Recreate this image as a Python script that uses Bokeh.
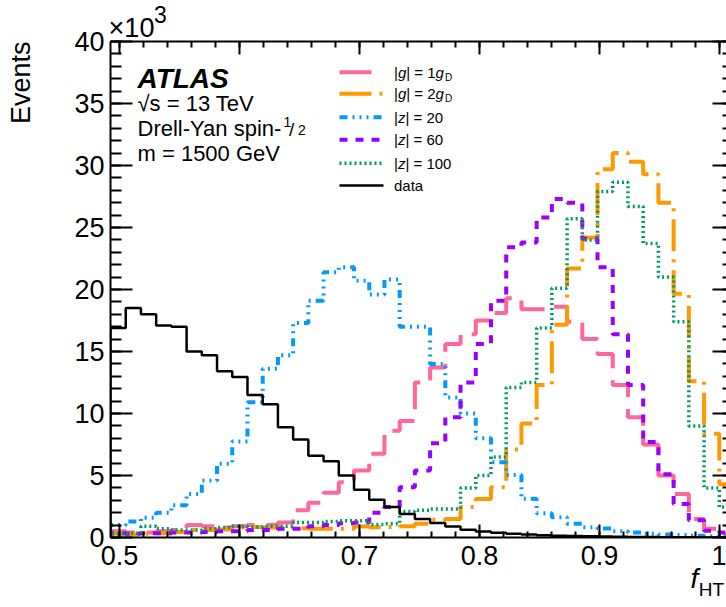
import numpy as np
from bokeh.plotting import figure
from bokeh.models import Range1d, LinearAxis, FixedTicker, CustomJSTickFormatter, Label, Title
from bokeh.embed import file_html
from bokeh.resources import INLINE

# ---------------- data (events in units of 10^3) ----------------
x_lo, x_hi, n_bins = 0.4925, 1.0125, 41

g1_vals = [0.5, 0.4, 0.4, 0.5, 0.6, 1.0, 0.9, 0.8, 0.9, 1.0, 1.0, 1.2, 2.2, 2.8, 3.6, 4.46,
           5.4, 6.75, 8.6, 9.4, 12.5, 13.7, 15.6, 16.4, 17.5, 18.1, 19.3, 18.4, 18.4, 18.6,
           17.4, 16.0, 14.8, 12.3, 9.7, 7.5, 5.0, 3.5, 1.5, 0.7, 0.3]
g2_vals = [0.3, 0.25, 0.3, 0.35, 0.45, 0.6, 0.6, 0.65, 0.8, 0.85, 0.8, 0.8, 0.75, 0.7, 0.7,
           0.7, 0.89, 0.83, 0.85, 0.9, 1.1, 1.43, 1.5, 2.45, 3.1, 4.06, 7.1, 9.2, 12.3, 17.15,
           21.7, 24.2, 29.7, 31.0, 30.3, 29.3, 27.0, 19.65, 12.6, 8.36, 4.3]
z20_vals = [1.0, 1.3, 1.6, 2.0, 2.6, 3.5, 4.6, 5.95, 7.75, 10.9, 13.6, 14.7, 17.3, 19.1, 21.4,
            21.8, 20.7, 19.6, 20.8, 17.0, 17.0, 14.0, 11.3, 10.0, 8.0, 6.07, 5.05, 3.12, 1.96,
            1.64, 1.1, 0.83, 0.72, 0.5, 0.4, 0.3, 0.25, 0.2, 0.15, 0.1, 0.1]
z60_vals = [0.35, 0.3, 0.35, 0.35, 0.4, 0.4, 0.45, 0.5, 0.5, 0.6, 0.6, 0.7, 0.7, 0.9, 1.0,
            1.15, 1.2, 2.0, 2.45, 4.06, 5.4, 7.6, 9.7, 12.5, 15.6, 19.1, 23.4, 23.8, 25.8, 27.3,
            27.0, 24.1, 21.8, 16.4, 12.3, 7.7, 5.1, 2.7, 1.4, 0.55, 0.4]
z100_vals = [0.3, 0.35, 0.9, 0.7, 0.6, 0.6, 0.7, 0.8, 0.9, 0.85, 0.9, 0.9, 1.2, 1.2, 1.3,
             1.35, 1.35, 1.05, 1.1, 2.1, 2.2, 2.3, 2.3, 4.0, 5.0, 6.5, 12.1, 12.5, 16.9, 20.1,
             25.7, 24.0, 27.9, 28.65, 26.7, 23.7, 21.0, 17.4, 9.0, 4.0, 2.45]
data_vals = [16.9, 18.5, 18.0, 17.1, 17.0, 15.0, 14.7, 13.4, 12.95, 11.5, 10.75, 8.9, 7.9, 6.6,
             6.15, 5.0, 3.85, 3.05, 2.45, 1.9, 1.5, 1.16, 0.89, 0.62, 0.48, 0.38, 0.3, 0.24,
             0.19, 0.15, 0.12, 0.1, 0.08, 0.06, 0.05, 0.04, 0.03, 0.02, 0.02, 0.01, 0.01]

x_ticks = [0.5, 0.6, 0.7, 0.8, 0.9, 1.0]
x_tick_labels = ["0.5", "0.6", "0.7", "0.8", "0.9", "1"]
y_ticks = [0, 5, 10, 15, 20, 25, 30, 35, 40]

FONT = "Liberation Sans"

# ---------------- geometry ----------------
W, H = 726, 607
FL, FT, FB = 110, 41, 70          # frame borders (canvas px)
PX_PER_X = 1200.0                  # pixels per unit x
x_end = x_lo + (W - FL) / PX_PER_X

def X(px):  # canvas px -> data x
    return x_lo + (px - FL) / PX_PER_X

def Y(py):  # canvas px -> data y
    return (H - FB - py) / 12.4

p = figure(width=W, height=H, x_range=Range1d(x_lo, x_end), y_range=Range1d(0, 40),
           output_backend="svg", toolbar_location=None, title=None,
           x_axis_location=None, y_axis_location=None,
           min_border_left=FL, min_border_right=0, min_border_top=FT, min_border_bottom=FB)
p.outline_line_color = None
p.grid.visible = False
p.background_fill_color = "white"
p.border_fill_color = "white"

x_minor = [round(0.5 + 0.02 * i, 4) for i in range(26)]
y_minor = list(range(0, 41))

lab_fmt = CustomJSTickFormatter(args=dict(tv=x_ticks, tl=x_tick_labels),
                                code="let out = ''; for (let i = 0; i < tv.length; i++) { if (Math.abs(tv[i] - tick) < 1e-6) { out = tl[i]; } } return out;")

def blank():
    return CustomJSTickFormatter(code="return '';")

def style_axis(ax, t_in, m_in):
    ax.major_tick_in = t_in
    ax.major_tick_out = 0
    ax.minor_tick_in = m_in
    ax.minor_tick_out = 0
    ax.axis_line_width = 2
    ax.major_tick_line_width = 2
    ax.minor_tick_line_width = 2
    ax.major_label_text_font = FONT
    ax.major_label_text_font_size = "27px"
    ax.major_label_text_color = "black"

def text_axis(pos_px, txt, size, style, standoff):
    """An axis with no line and no tick marks that only carries one text."""
    ax = LinearAxis(ticker=FixedTicker(ticks=[X(pos_px)], minor_ticks=[]),
                    formatter=CustomJSTickFormatter(code="return '%s';" % txt))
    ax.axis_line_color = None
    ax.major_tick_line_color = None
    ax.minor_tick_line_color = None
    ax.major_tick_in = 0
    ax.major_tick_out = 0
    ax.minor_tick_in = 0
    ax.minor_tick_out = 0
    ax.major_label_standoff = standoff
    ax.major_label_text_font = FONT
    ax.major_label_text_font_size = f"{size}px"
    ax.major_label_text_font_style = style
    ax.major_label_text_color = "black"
    return ax

# bottom axis with labels, then the x title f_HT
xb = LinearAxis(ticker=FixedTicker(ticks=x_ticks, minor_ticks=x_minor), formatter=lab_fmt)
style_axis(xb, 13, 6)
xb.major_label_standoff = 8
p.add_layout(xb, "below")
p.add_layout(text_axis(694, "f", 28, "italic", -5), "below")
p.add_layout(text_axis(711, "HT", 19, "normal", -18), "below")

# top axis (inward ticks only), then the x10^3 multiplier
xt = LinearAxis(ticker=FixedTicker(ticks=x_ticks, minor_ticks=x_minor), formatter=blank())
style_axis(xt, 13, 6)
xt.major_label_standoff = 0
xt.major_label_text_font_size = "0px"
p.add_layout(xt, "above")
p.add_layout(text_axis(131, "\u00d710", 27, "normal", -1), "above")
p.add_layout(text_axis(160, "3", 23, "normal", -13), "above")

# left axis with labels
yl = LinearAxis(ticker=FixedTicker(ticks=y_ticks, minor_ticks=y_minor))
style_axis(yl, 22, 11)
yl.major_label_standoff = 6
p.add_layout(yl, "left")

# invisible spacer between the tick labels and the y title
sp = LinearAxis(ticker=FixedTicker(ticks=[20], minor_ticks=[]), formatter=blank())
sp.axis_line_color = None
sp.major_tick_line_color = None
sp.minor_tick_line_color = None
sp.major_tick_in = 0
sp.major_tick_out = 36
sp.minor_tick_out = 0
sp.major_label_standoff = 0
sp.major_label_text_font_size = "0px"
p.add_layout(sp, "left")
p.add_layout(Title(text="Events", align="right", vertical_align="bottom", offset=0,
                   standoff=0, text_font=FONT, text_font_size="27px", text_font_style="normal",
                   text_color="black"), "left")

# right axis (inward ticks only, axis line lies beyond the canvas)
yr = LinearAxis(ticker=FixedTicker(ticks=y_ticks, minor_ticks=y_minor), formatter=blank())
style_axis(yr, 14, 4)
yr.axis_line_color = None
yr.major_label_standoff = 0
yr.major_label_text_font_size = "0px"
p.add_layout(yr, "right")

# ---------------- histograms ----------------
edges = np.linspace(x_lo, x_hi, n_bins + 1)

def step_xy(vals):
    xs = np.repeat(edges, 2)
    ys = np.concatenate([[0.0], np.repeat(np.asarray(vals, float), 2), [0.0]])
    return xs, ys

series = [
    (g1_vals, "#FF6699", "32 12", 4),
    (g2_vals, "#FF9900", "32 8 3 8", 4),
    (z20_vals, "#0099FF", "8 5 2 5 2 5 2 5", 4),
    (z60_vals, "#9900FF", "8 8", 4),
    (z100_vals, "#009966", "2 3", 3.5),
    (data_vals, "black", "solid", 2.5),
]
for vals, col, dash, lw in series:
    xs, ys = step_xy(vals)
    p.line(xs, ys, line_color=col, line_width=lw, line_dash=dash)

# ---------------- legend ----------------
rows_py = [71.7, 93.3, 116.7, 139.3, 162.7, 185.0]
for (vals, col, dash, lw), py in zip(series, rows_py):
    p.line([X(339), X(383)], [Y(py), Y(py)], line_color=col, line_width=lw, line_dash=dash)

def lab(text, px, py, size, style="normal", baseline="middle", align="left"):
    p.add_layout(Label(x=X(px), y=Y(py), text=text, text_font=FONT, text_font_size=f"{size}px",
                       text_font_style=style, text_baseline=baseline, text_align=align,
                       text_color="black"))

L0 = 393.5
for py, num in [(rows_py[0], "1"), (rows_py[1], "2")]:
    lab("|", L0, py, 15)
    lab("g", L0 + 3.9, py, 15, "italic")
    lab("| = " + num, L0 + 12.2, py, 15)
    lab("g", L0 + 41.6, py, 15, "italic")
    lab("D", L0 + 51.0, py + 5, 10)
for py, num in [(rows_py[2], "20"), (rows_py[3], "60"), (rows_py[4], "100")]:
    lab("|", L0, py, 15)
    lab("z", L0 + 3.9, py, 15, "italic")
    lab("| = " + num, L0 + 11.4, py, 15)
lab("data", L0, rows_py[5], 15)

# ---------------- annotations inside the frame ----------------
lab("ATLAS", 137, 78, 28, "bold italic", "alphabetic")
lab("\u221As = 13 TeV", 137, 103, 22, "normal", "alphabetic")
lab("Drell-Yan spin-", 137, 128, 22, "normal", "alphabetic")
lab("1", 283, 121, 14, "normal", "alphabetic")
lab("/", 288.5, 129, 19, "normal", "alphabetic")
lab("2", 297.5, 129, 14, "normal", "alphabetic")
lab("m = 1500 GeV", 137, 153, 22, "normal", "alphabetic")

open("out.html", "w").write(file_html(p, INLINE))
